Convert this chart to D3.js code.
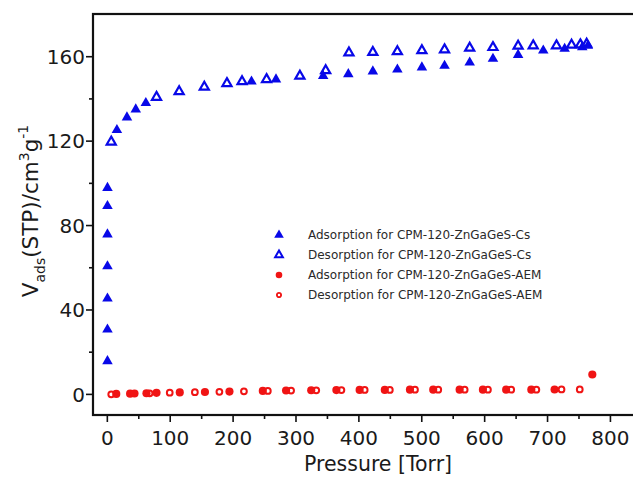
<!DOCTYPE html>
<html>
<head>
<meta charset="utf-8">
<script src="https://cdn.jsdelivr.net/npm/d3@7"></script>
<style>
  body { margin: 0; background: #fff; }
  text { font-family: "DejaVu Sans", sans-serif; }
</style>
</head>
<body>
<div id="wrapper"></div>
<script>
// data: pressure (Torr) and adsorbed volume (cm3/g)
const csAdsP = [1, 1, 1, 1, 1, 1, 1, 16, 32, 46, 62, 230, 269, 344, 384, 423, 462, 501, 537, 577, 614, 654, 694, 728, 756, 765]
const csAdsV = [15.5, 30.5, 45.2, 60.5, 75.6, 89, 97.6, 125, 131, 134.8, 137.8, 148, 149, 150.6, 151.5, 152.8, 153.7, 154.7, 155.5, 157, 158.8, 160.6, 162.7, 163.5, 164.3, 165]
const csDesP = [7, 79, 115, 155, 191, 215, 254, 307, 348, 385, 423, 462, 501, 537, 577, 614, 654, 678, 715, 739, 753, 763]
const csDesV = [119.4, 140.6, 143.3, 145.4, 147.1, 148, 149, 150.6, 153.2, 161.6, 161.9, 162.2, 162.7, 163.1, 163.9, 164.2, 164.8, 165, 165, 165.3, 165.5, 165.8]
const aemAdsP = [15, 37, 44, 63, 79, 116, 156, 195, 248, 285, 325, 365, 402, 442, 482, 519, 561, 598, 635, 675, 712, 772]
const aemAdsV = [0, 0.1, 0.2, 0.3, 0.5, 0.7, 0.9, 1.1, 1.4, 1.6, 1.7, 1.8, 1.9, 1.9, 2.0, 2.0, 2.0, 2.0, 2.0, 2.0, 2.1, 9.2]
const aemDesP = [7, 68, 100, 140, 179, 218, 256, 293, 333, 373, 410, 450, 490, 527, 569, 606, 643, 683, 723, 752]
const aemDesV = [-0.2, 0.3, 0.6, 0.8, 1.0, 1.2, 1.4, 1.6, 1.7, 1.8, 1.9, 1.9, 2.0, 2.0, 2.0, 2.0, 2.0, 2.0, 2.1, 2.1]

const xTicks = [0, 100, 200, 300, 400, 500, 600, 700, 800]
const yTicks = [0, 40, 80, 120, 160]
const legendLabels = [
  "Adsorption for CPM-120-ZnGaGeS-Cs",
  "Desorption for CPM-120-ZnGaGeS-Cs",
  "Adsorption for CPM-120-ZnGaGeS-AEM",
  "Desorption for CPM-120-ZnGaGeS-AEM",
]

const blue = "#0808e8"
const red = "#f01414"

const width = 633
const height = 479
const frame = { left: 93, top: 14, right: 642, bottom: 415 }

const svg = d3.select("#wrapper")
  .append("svg")
    .attr("width", width)
    .attr("height", height)

const x = d3.scaleLinear().domain([-22, 851]).range([frame.left, frame.right])
const y = d3.scaleLinear().domain([-10, 180]).range([frame.bottom, frame.top])

// axes (ticks outward)
const xAxis = svg.append("g")
    .attr("transform", `translate(0, ${frame.bottom})`)
    .call(d3.axisBottom(x).tickValues(xTicks).tickSize(7).tickPadding(9))
const xMinor = svg.append("g")
    .attr("transform", `translate(0, ${frame.bottom})`)
    .call(d3.axisBottom(x).tickValues(d3.range(50, 850, 100)).tickSize(4).tickFormat(""))
const yAxis = svg.append("g")
    .attr("transform", `translate(${frame.left}, 0)`)
    .call(d3.axisLeft(y).tickValues(yTicks).tickSize(7).tickPadding(1))
const yMinor = svg.append("g")
    .attr("transform", `translate(${frame.left}, 0)`)
    .call(d3.axisLeft(y).tickValues([20, 60, 100, 140]).tickSize(4).tickFormat(""))

;[xAxis, xMinor, yAxis, yMinor].forEach(g => {
  g.select(".domain").remove()
  g.selectAll("line").attr("stroke", "#111").attr("stroke-width", 1.6)
  g.selectAll("text")
    .attr("fill", "#1a1a1a")
    .style("font-size", "20px")
})
yAxis.selectAll("text").attr("dy", "0.36em")

svg.append("rect")
    .attr("x", frame.left)
    .attr("y", frame.top)
    .attr("width", frame.right - frame.left)
    .attr("height", frame.bottom - frame.top)
    .attr("fill", "none")
    .attr("stroke", "#111")
    .attr("stroke-width", 2.2)

// axis titles
svg.append("text")
    .attr("x", 378)
    .attr("y", 471)
    .attr("text-anchor", "middle")
    .attr("fill", "#1a1a1a")
    .style("font-size", "20.5px")
    .text("Pressure [Torr]")

const yTitle = svg.append("text")
    .attr("transform", "translate(38, 211) rotate(-90)")
    .attr("text-anchor", "middle")
    .attr("fill", "#1a1a1a")
    .style("font-size", "21.5px")
yTitle.append("tspan").text("V")
yTitle.append("tspan").attr("dy", 7).style("font-size", "14px").text("ads")
yTitle.append("tspan").attr("dy", -7).text("(STP)/cm")
yTitle.append("tspan").attr("dy", -9).style("font-size", "14px").text("3")
yTitle.append("tspan").attr("dy", 9).text("g")
yTitle.append("tspan").attr("dy", -10).style("font-size", "14px").text("-1")

// markers
const triFilled = d3.symbol(d3.symbolTriangle, 48)
const triOpen = d3.symbol(d3.symbolTriangle, 36)

const plot = svg.append("g")

const draw = (P, V, kind) => {
  const data = P.map((p, i) => ({ p, v: V[i] }))
  const sel = plot.append("g").selectAll("path").data(data).join("path")
      .attr("transform", d => `translate(${x(d.p)}, ${y(d.v)})`)
  if (kind == "triFilled") sel.attr("d", triFilled).attr("fill", blue)
  if (kind == "triOpen") sel.attr("d", triOpen).attr("fill", "none").attr("stroke", blue).attr("stroke-width", 2.2)
  if (kind == "dotFilled") sel.attr("d", d3.symbol(d3.symbolCircle, 52)).attr("fill", red)
  if (kind == "dotOpen") sel.attr("d", d3.symbol(d3.symbolCircle, 26)).attr("fill", "none").attr("stroke", red).attr("stroke-width", 2)
}

draw(aemAdsP, aemAdsV, "dotFilled")
draw(aemDesP, aemDesV, "dotOpen")
draw(csAdsP, csAdsV, "triFilled")
draw(csDesP, csDesV, "triOpen")

// legend
const legend = svg.append("g").attr("transform", "translate(279, 235)")
const kinds = ["triFilled", "triOpen", "dotFilled", "dotOpen"]
legendLabels.forEach((label, i) => {
  const row = legend.append("g").attr("transform", `translate(0, ${i * 20})`)
  const k = kinds[i]
  const m = row.append("path")
  if (k == "triFilled") m.attr("d", d3.symbol(d3.symbolTriangle, 40)).attr("fill", blue)
  if (k == "triOpen") m.attr("d", d3.symbol(d3.symbolTriangle, 26)).attr("fill", "none").attr("stroke", blue).attr("stroke-width", 2)
  if (k == "dotFilled") m.attr("d", d3.symbol(d3.symbolCircle, 34)).attr("fill", red)
  if (k == "dotOpen") m.attr("d", d3.symbol(d3.symbolCircle, 14)).attr("fill", "none").attr("stroke", red).attr("stroke-width", 1.8)
  row.append("text")
      .attr("x", 29)
      .attr("dy", "0.36em")
      .attr("fill", "#2a2a2a")
      .style("font-size", "12px")
      .text(label)
})
</script>
</body>
</html>
